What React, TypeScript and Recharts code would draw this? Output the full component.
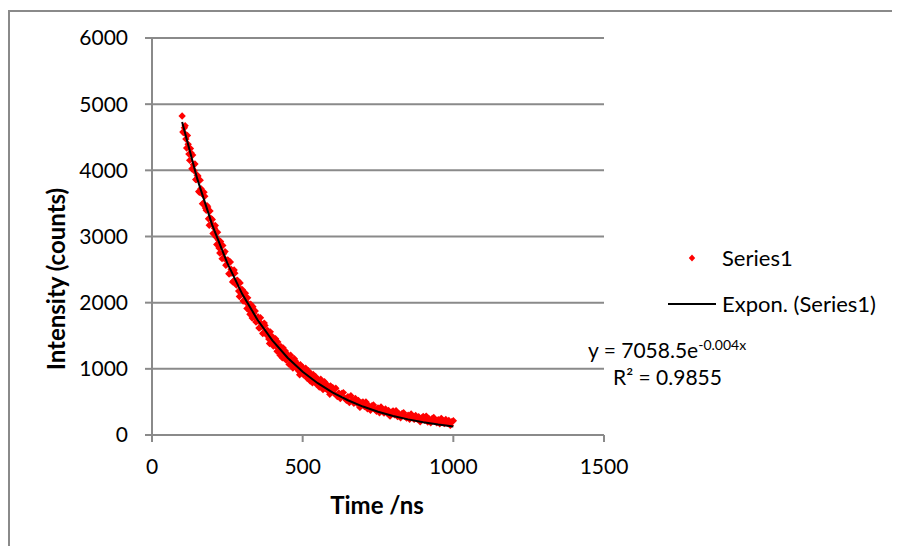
import { ScatterChart, Scatter, XAxis, YAxis, CartesianGrid } from 'recharts'

// measured decay: time (ns) and intensity (counts)
const times = [
  100, 105, 110, 115, 120, 125, 130, 135, 140, 145, 150, 155, 160, 165, 170, 175, 180, 185, 190, 195,
  200, 205, 210, 215, 220, 225, 230, 235, 240, 245, 250, 255, 260, 265, 270, 275, 280, 285, 290, 295,
  300, 305, 310, 315, 320, 325, 330, 335, 340, 345, 350, 355, 360, 365, 370, 375, 380, 385, 390, 395,
  400, 405, 410, 415, 420, 425, 430, 435, 440, 445, 450, 455, 460, 465, 470, 475, 480, 485, 490, 495,
  500, 505, 510, 515, 520, 525, 530, 535, 540, 545, 550, 555, 560, 565, 570, 575, 580, 585, 590, 595,
  600, 605, 610, 615, 620, 625, 630, 635, 640, 645, 650, 655, 660, 665, 670, 675, 680, 685, 690, 695,
  700, 705, 710, 715, 720, 725, 730, 735, 740, 745, 750, 755, 760, 765, 770, 775, 780, 785, 790, 795,
  800, 805, 810, 815, 820, 825, 830, 835, 840, 845, 850, 855, 860, 865, 870, 875, 880, 885, 890, 895,
  900, 905, 910, 915, 920, 925, 930, 935, 940, 945, 950, 955, 960, 965, 970, 975, 980, 985, 990, 995,
  1000,
]
const counts = [
  4822, 4572, 4675, 4338, 4393, 4151, 4261, 4230, 3992, 3861, 3926, 3680, 3852, 3648, 3498, 3609, 3397, 3446, 3171, 3275,
  3256, 3049, 3167, 2879, 2952, 2750, 2873, 2865, 2667, 2565, 2645, 2438, 2615, 2446, 2325, 2446, 2267, 2330, 2093, 2205,
  2196, 2034, 2143, 1913, 1983, 1824, 1936, 1939, 1782, 1706, 1781, 1617, 1773, 1640, 1547, 1656, 1515, 1574, 1384, 1485,
  1486, 1355, 1455, 1266, 1333, 1205, 1308, 1317, 1189, 1131, 1201, 1067, 1207, 1099, 1027, 1124, 1010, 1066, 910, 1001,
  1025, 922, 1009, 858, 917, 815, 903, 914, 814, 770, 831, 725, 842, 757, 701, 784, 693, 743, 617, 695,
  713, 628, 706, 580, 634, 550, 629, 641, 558, 524, 579, 491, 594, 524, 479, 553, 478, 522, 417, 486,
  500, 431, 498, 395, 442, 374, 441, 454, 386, 359, 407, 335, 423, 367, 330, 394, 332, 371, 285, 344,
  365, 306, 367, 277, 320, 261, 324, 337, 278, 255, 299, 237, 317, 268, 236, 295, 242, 277, 201, 256,
  280, 223, 286, 197, 243, 185, 250, 264, 207, 186, 231, 170, 252, 204, 174, 234, 182, 220, 145, 201,
  216,
]

// interleaved readings over the steep part
const times2 = [
  102.5, 107.5, 112.5, 117.5, 122.5, 127.5, 132.5, 137.5, 142.5, 147.5, 152.5, 157.5, 162.5, 167.5, 172.5, 177.5, 182.5, 187.5, 192.5, 197.5,
  202.5, 207.5, 212.5, 217.5, 222.5, 227.5, 232.5, 237.5, 242.5, 247.5, 252.5, 257.5, 262.5, 267.5, 272.5, 277.5, 282.5, 287.5, 292.5, 297.5,
  302.5, 307.5, 312.5, 317.5, 322.5, 327.5, 332.5, 337.5, 342.5, 347.5, 352.5, 357.5, 362.5, 367.5, 372.5, 377.5, 382.5, 387.5, 392.5, 397.5,
  402.5, 407.5, 412.5, 417.5, 422.5, 427.5, 432.5, 437.5, 442.5, 447.5, 452.5, 457.5, 462.5, 467.5, 472.5, 477.5, 482.5, 487.5, 492.5, 497.5,
  502.5, 507.5, 512.5, 517.5, 522.5, 527.5, 532.5, 537.5, 542.5, 547.5, 552.5, 557.5, 562.5, 567.5, 572.5, 577.5, 582.5, 587.5, 592.5, 597.5,
]
const counts2 = [
  4580, 4643, 4474, 4527, 4245, 4329, 4024, 4085, 4095, 3860, 3913, 3668, 3724, 3495, 3670, 3431, 3467, 3269, 3385, 3191,
  3044, 3126, 2993, 3065, 2827, 2925, 2665, 2741, 2772, 2575, 2643, 2437, 2506, 2314, 2493, 2291, 2340, 2175, 2299, 2135,
  2025, 2103, 2003, 2073, 1883, 1975, 1767, 1841, 1874, 1718, 1784, 1620, 1686, 1534, 1691, 1530, 1580, 1449, 1559, 1430,
  1344, 1418, 1339, 1407, 1252, 1337, 1167, 1237, 1271, 1145, 1206, 1073, 1137, 1011, 1152, 1019, 1069, 962, 1062, 956,
  910, 976, 916, 975, 852, 925, 790, 850, 883, 783, 837, 731, 785, 687, 806, 700, 742, 659, 743, 660,
]

// exponential trendline as drawn
const fitTimes = [100, 150, 200, 250, 300, 350, 400, 450, 500, 550, 600, 650, 700, 750, 800, 850, 900, 950, 1000]
const fitCounts = [4731, 3874, 3172, 2597, 2126, 1741, 1426, 1167, 956, 783, 641, 525, 430, 352, 288, 236, 193, 158, 129]

const xTicks = [0, 500, 1000, 1500]
const yTicks = [0, 1000, 2000, 3000, 4000, 5000, 6000]

const points = [
  ...times.map((t, i) => ({ x: t, y: counts[i] })),
  ...times2.map((t, i) => ({ x: t, y: counts2[i] })),
]
const fit = fitTimes.map((t, i) => ({ x: t, y: fitCounts[i] }))

const FONT = 'Lato, "Open Sans", sans-serif'
const GREY = '#8a8a8a'

const Diamond = ({ cx, cy }: any) => {
  if (cx == null || cy == null) return <g />
  const r = 3.7
  return <polygon points={`${cx},${cy - r} ${cx + r},${cy} ${cx},${cy + r} ${cx - r},${cy}`} fill="#ff0000" />
}

export default function App() {
  return (
    <div style={{
      position: 'relative', width: 910, height: 536, marginTop: 2, fontFamily: FONT, color: '#000',
      background: '#fff', overflow: 'hidden',
    }}>
      <style>{'html, body { overflow: hidden; background: #fff; }'}</style>
      <div style={{
        position: 'absolute', left: 0, top: 0, width: 910, height: 536, boxSizing: 'border-box',
        borderLeft: `2px solid ${GREY}`, borderTop: `2px solid ${GREY}`,
      }} />
      <ScatterChart width={892} height={536} margin={{ top: 28, right: 296, bottom: 31, left: 44 }}>
        <CartesianGrid horizontal vertical={false} stroke={GREY} strokeWidth={2} />
        <XAxis
          type="number"
          dataKey="x"
          domain={[0, 1500]}
          ticks={xTicks}
          height={80}
          stroke={GREY}
          strokeWidth={2}
          tickSize={7}
          tickMargin={17}
          tick={{ fontSize: 21, fill: '#000', fontFamily: FONT }}
        />
        <YAxis
          type="number"
          dataKey="y"
          domain={[0, 6000]}
          ticks={yTicks}
          width={100}
          stroke={GREY}
          strokeWidth={2}
          tickSize={7}
          tickMargin={17}
          tick={{ fontSize: 21, fill: '#000', fontFamily: FONT }}
        />
        <Scatter data={points} shape={<Diamond />} isAnimationActive={false} />
        <Scatter data={fit} line={{ stroke: '#000', strokeWidth: 2 }} shape={() => <g />} isAnimationActive={false} />
      </ScatterChart>

      {/* axis titles */}
      <div style={{
        position: 'absolute', left: 369, top: 480, fontSize: 24, fontWeight: 700, whiteSpace: 'nowrap',
        transform: 'translateX(-50%)',
      }}>
        Time /ns
      </div>
      <div style={{
        position: 'absolute', left: 47, top: 269, fontSize: 24, fontWeight: 700, whiteSpace: 'nowrap',
        transform: 'translate(-50%, -50%) rotate(-90deg)',
      }}>
        Intensity (counts)
      </div>

      {/* legend */}
      <svg style={{ position: 'absolute', left: 0, top: 0 }} width={892} height={536}>
        <polygon points="684,244.5 687.2,248 684,251.5 680.8,248" fill="#ff0000" />
        <line x1={660} y1={294} x2={708} y2={294} stroke="#000" strokeWidth={2} />
      </svg>
      <div style={{ position: 'absolute', left: 714, top: 234, fontSize: 22 }}>Series1</div>
      <div style={{ position: 'absolute', left: 714, top: 280, fontSize: 22 }}>Expon. (Series1)</div>

      {/* trendline equation */}
      <div style={{ position: 'absolute', left: 580, top: 327, fontSize: 21, lineHeight: '25px', whiteSpace: 'nowrap' }}>
        y = 7058.5e<sup style={{ fontSize: 14, lineHeight: 0 }}>-0.004x</sup>
      </div>
      <div style={{ position: 'absolute', left: 605, top: 354, fontSize: 21, lineHeight: '25px', whiteSpace: 'nowrap' }}>
        R² = 0.9855
      </div>
    </div>
  )
}
